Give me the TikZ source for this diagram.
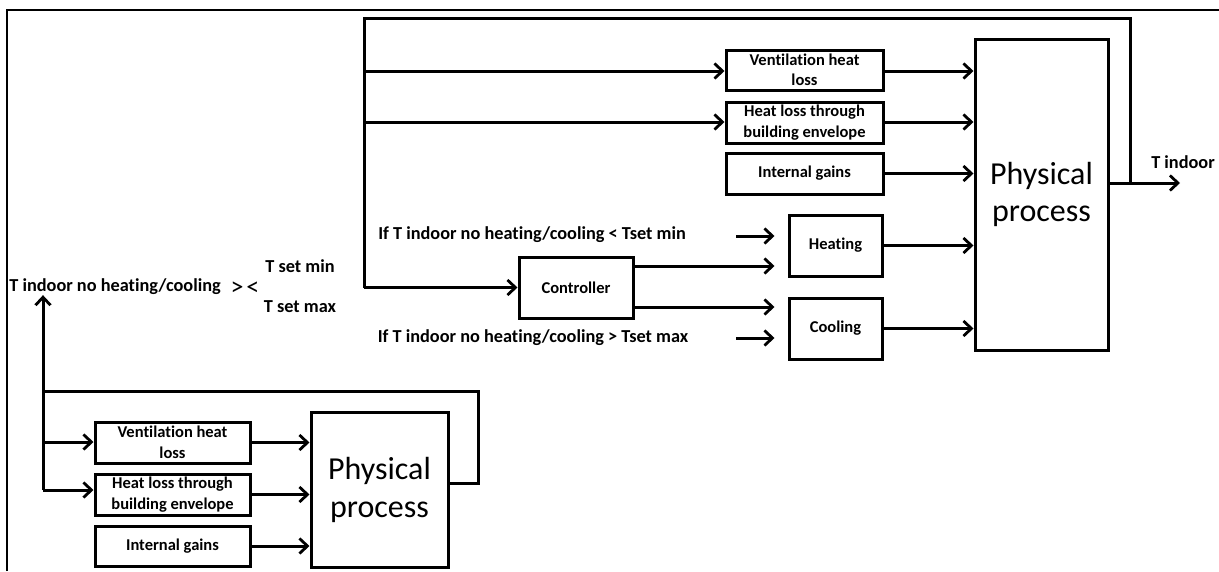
\documentclass[tikz,border=0pt]{standalone}
\usepackage{fontspec}
\setmainfont{Carlito}[Ligatures=NoCommon]
\usetikzlibrary{arrows.meta}
\begin{document}
\begin{tikzpicture}[x=1pt,y=-1pt,
  ln/.style={line width=3pt, line join=miter},
  arr/.style={ln, -{Straight Barb[length=8pt,width=15pt,line width=2.8pt]}},
  box/.style={draw, line width=3pt, rectangle, inner sep=0pt, align=center,
     font=\fontsize{16.5}{20.5}\selectfont\bfseries},
  big/.style={draw, line width=3pt, rectangle, inner sep=0pt, align=center,
     font=\fontsize{32}{37.5}\selectfont},
  lbl/.style={inner sep=0pt, font=\fontsize{18.3}{22}\selectfont\bfseries}]
\useasboundingbox (0,0) rectangle (1219,571);
% outer frame
\draw[line width=2.6pt] (7,571) -- (7,10) -- (1219,10);
% top-right nodes
\node[box, minimum width=157, minimum height=40] (vent) at (804.5,70) {Ventilation heat\\loss};
\node[box, minimum width=157, minimum height=41] (hloss) at (804.5,122.5) {Heat loss through\\building envelope};
\node[box, minimum width=157, minimum height=41] (igain) at (804.5,173.5) {Internal gains};
\node[big, minimum width=133, minimum height=311] (pp) at (1041.5,194.5) {Physical\\process};
\node[box, minimum width=93, minimum height=61] (heat) at (835.5,245.5) {Heating};
\node[box, minimum width=93, minimum height=61] (cool) at (835.5,328.5) {Cooling};
\node[box, minimum width=114, minimum height=61] (ctrl) at (576,287.5) {Controller};
% bottom-left nodes
\node[box, minimum width=155, minimum height=41] (bvent) at (172.5,442.5) {Ventilation heat\\loss};
\node[box, minimum width=155, minimum height=41] (bhloss) at (172.5,494.5) {Heat loss through\\building envelope};
\node[box, minimum width=155, minimum height=40] (bigain) at (172.5,546) {Internal gains};
\node[big, minimum width=137, minimum height=155] (bpp) at (379.5,490) {Physical\\process};
% labels
\node[lbl] (tin) at (115,287) {T indoor no heating/cooling};
\node[inner sep=0pt, font=\fontsize{26}{26}\selectfont] (cmp) at (245,289) {>\kern3pt<};
\node[lbl] (tmin) at (300,266) {T set min};
\node[lbl] (tmax) at (300,307) {T set max};
\node[lbl] (ifmin) at (532,235) {If T indoor no heating/cooling < Tset min};
\node[lbl] (ifmax) at (533,338) {If T indoor no heating/cooling > Tset max};
\node[lbl] (tout) at (1183,162) {T indoor};
% coordinates
\coordinate (fbL) at (364,18);
\coordinate (fbR) at (1130,18);
\coordinate (jOut) at (1130,183);
\coordinate (ppOut) at (1108,183);
\coordinate (outEnd) at (1180,183);
\coordinate (c1) at (633,266);
\coordinate (c2) at (633,307);
\coordinate (a1) at (736,236);
\coordinate (a2) at (736,338);
\coordinate (v1) at (364,71);
\coordinate (v2) at (364,122);
\coordinate (bj) at (43,391);
\coordinate (bR) at (478,391);
\coordinate (bRo) at (478,483);
\coordinate (b1) at (43,442);
\coordinate (b2) at (43,490);
% top feedback loop
\draw[arr] (ppOut) -- (outEnd);
\draw[ln] (jOut) -- (fbR) -- (fbL) -- (fbL |- ctrl.west);
\draw[arr] (fbL |- ctrl.west) -- (ctrl.west);
\draw[arr] (v1) -- (v1 -| vent.west);
\draw[arr] (v2) -- (v2 -| hloss.west);
\draw[arr] (vent.east |- v1) -- (v1 -| pp.west);
\draw[arr] (hloss.east |- v2) -- (v2 -| pp.west);
\draw[arr] (igain.east) -- (igain.east -| pp.west);
\draw[arr] (heat.east) -- (heat.east -| pp.west);
\draw[arr] (cool.east) -- (cool.east -| pp.west);
\draw[arr, shorten >=13pt] (c1) -- (c1 -| heat.west);
\draw[arr, shorten >=13pt] (c2) -- (c2 -| cool.west);
\draw[arr, shorten >=13pt] (a1) -- (a1 -| heat.west);
\draw[arr, shorten >=13pt] (a2) -- (a2 -| cool.west);
% bottom loop
\draw[arr] (b2) -- (b2 |- tin.south);
\draw[ln] (bj) -- (bR) -- (bRo) -- (bRo -| bpp.east);
\draw[arr] (b1) -- (b1 -| bvent.west);
\draw[arr] (b2) -- (b2 -| bhloss.west);
\draw[arr] (bvent.east) -- (bvent.east -| bpp.west);
\draw[arr] (bhloss.east) -- (bhloss.east -| bpp.west);
\draw[arr] (bigain.east) -- (bigain.east -| bpp.west);
\end{tikzpicture}
\end{document}
